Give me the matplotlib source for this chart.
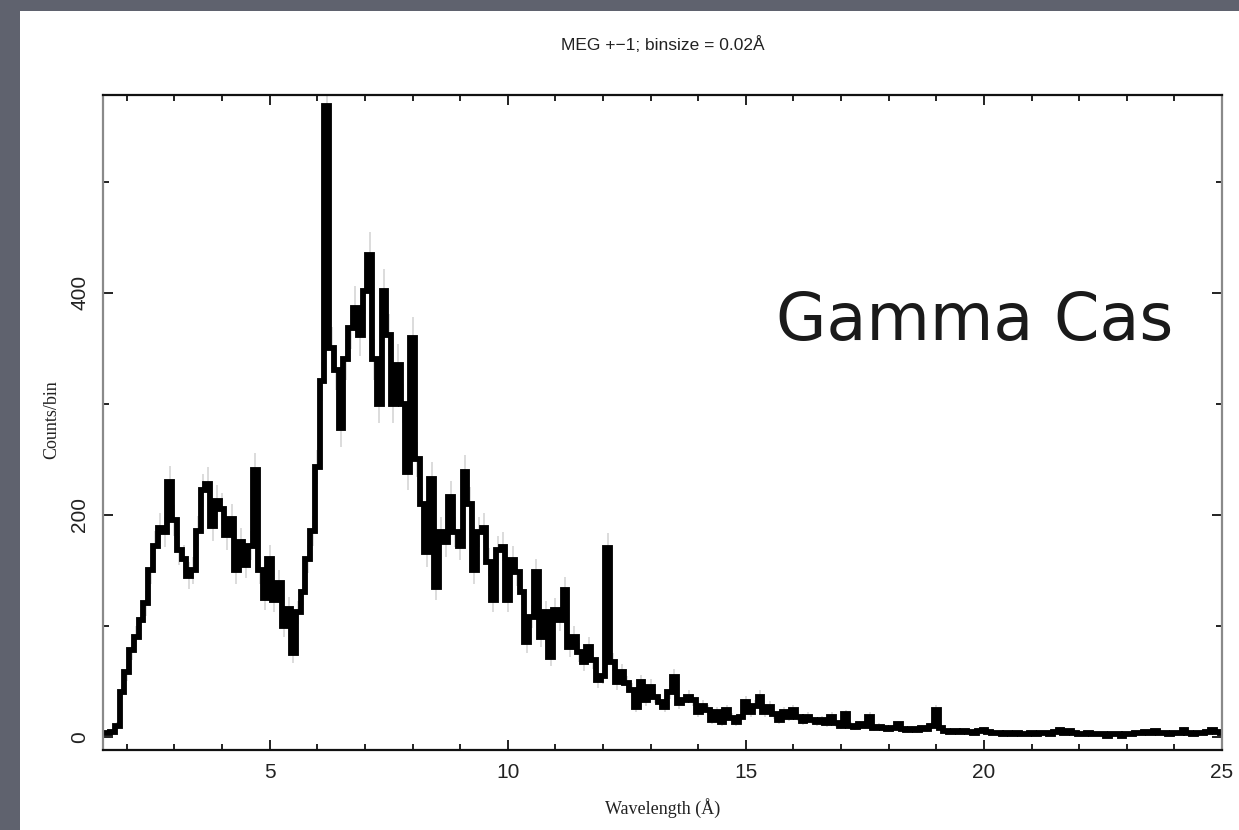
import numpy as np
import matplotlib
matplotlib.use("Agg")
import matplotlib.pyplot as plt
from matplotlib.patches import Rectangle
from matplotlib.ticker import MultipleLocator

# MEG +-1 spectrum of gamma Cas, counts per bin (bin centres in Angstrom)
wavelength = [round(1.5 + 0.1 * i, 1) for i in range(236)]
counts = [
    3, 3, 4, 10, 40, 58, 78, 90, 105, 120,            # 1.5 - 2.4
    150, 172, 188, 184, 229, 195, 168, 160, 145, 150,  # 2.5 - 3.4
    185, 222, 228, 190, 212, 205, 182, 196, 150, 175,  # 3.5 - 4.4
    155, 172, 240, 150, 125, 160, 123, 138, 100, 115,  # 4.5 - 5.4
    75, 112, 130, 160, 185, 243, 320, 568, 350, 330,   # 5.5 - 6.4
    278, 340, 368, 386, 362, 401, 434, 340, 300, 401,  # 6.5 - 7.4
    362, 300, 335, 300, 238, 359, 250, 210, 166, 232,  # 7.5 - 8.4
    135, 184, 175, 216, 184, 172, 238, 210, 150, 184,  # 8.5 - 9.4
    188, 157, 123, 168, 171, 123, 159, 148, 130, 85,   # 9.5 - 10.4
    108, 148, 90, 112, 72, 114, 105, 132, 81, 90,      # 10.5 - 11.4
    76, 67, 81, 69, 51, 55, 170, 67, 49, 58,           # 11.5 - 12.4
    48, 42, 27, 49, 33, 45, 36, 31, 27, 40,            # 12.5 - 13.4
    54, 30, 33, 36, 33, 22, 28, 24, 15, 22,            # 13.5 - 14.4
    13, 24, 17, 13, 18, 31, 22, 28, 36, 22,            # 14.5 - 15.4
    27, 20, 15, 22, 18, 24, 18, 14, 18, 15,            # 15.5 - 16.4
    13, 15, 12, 18, 12, 10, 20, 10, 9, 11,             # 16.5 - 17.4
    10, 18, 8, 9, 8, 7, 8, 11, 7, 6,                   # 17.5 - 18.4
    7, 6, 8, 7, 10, 24, 8, 5, 4, 5,                    # 18.5 - 19.4
    4, 5, 4, 3, 5, 6, 4, 3, 3, 2,                      # 19.5 - 20.4
    3, 2, 3, 2, 2, 3, 2, 3, 3, 2,                      # 20.5 - 21.4
    4, 6, 3, 5, 3, 2, 2, 3, 2, 2,                      # 21.5 - 22.4
    2, 1, 2, 2, 1, 2, 2, 3, 3, 4,                      # 22.5 - 23.4
    3, 5, 3, 3, 2, 3, 3, 6, 3, 2,                      # 23.5 - 24.4
    3, 3, 4, 6, 4, 3,                                  # 24.5 - 25.0
]

x_major = [5, 10, 15, 20, 25]
y_major = [0, 200, 400]

title_text = "MEG +\u22121; binsize = 0.02\u00c5"
xlabel_text = "Wavelength (\u00c5)"
ylabel_text = "Counts/bin"
source_name = "Gamma Cas"

W, H = 1239, 830
fig = plt.figure(figsize=(W / 100, H / 100), dpi=100)
fig.patch.set_facecolor("#5f626e")
fig.patches.append(Rectangle((20 / W, 0), 1 - 20 / W, (H - 11) / H,
                             transform=fig.transFigure, facecolor="white",
                             edgecolor="none", zorder=-5))

ax = fig.add_axes([103 / W, 1 - 750 / H, (1222 - 103) / W, (750 - 95) / H])
ax.set_zorder(2)
ax.set_facecolor("white")

wl = np.array(wavelength)
ct = np.array(counts, dtype=float)
err = np.sqrt(np.maximum(ct, 1.0))
ax.vlines(wl, ct - err, ct + err, color="#d6d6d6", lw=1.2, zorder=1)
ax.step(wl, ct, where="mid", color="black", lw=4.2, zorder=2,
        solid_joinstyle="miter")

ax.set_xlim(1.5, 25.0)
ax.set_ylim(-12, 578)

ax.xaxis.set_major_locator(MultipleLocator(5))
ax.xaxis.set_minor_locator(MultipleLocator(1))
ax.yaxis.set_major_locator(MultipleLocator(200))
ax.yaxis.set_minor_locator(MultipleLocator(100))
ax.set_xticks(x_major)
ax.set_yticks(y_major)

ax.tick_params(which="both", direction="in", top=True, right=True,
               colors="#222222", width=1.4)
ax.tick_params(which="major", length=7)
ax.tick_params(which="minor", length=4)
ax.tick_params(axis="x", which="major", pad=9, labelsize=15, labelcolor="#222222")
ax.tick_params(axis="y", which="major", pad=10, labelsize=15, labelcolor="#222222")
for lab in ax.get_xticklabels() + ax.get_yticklabels():
    lab.set_fontfamily("Liberation Sans")
for lab in ax.get_yticklabels():
    lab.set_rotation(90)
    lab.set_va("center")

for side in ("top", "bottom"):
    ax.spines[side].set_color("#111111")
    ax.spines[side].set_linewidth(1.6)
for side in ("left", "right"):
    ax.spines[side].set_color("#8a8a8a")
    ax.spines[side].set_linewidth(1.6)

fig.text(663 / W, 1 - 45 / H, title_text, ha="center", va="center",
         fontsize=12.5, family="Liberation Sans", color="#222222")
fig.text(663 / W, 1 - 808 / H, xlabel_text, ha="center", va="center",
         fontsize=13, family="Liberation Serif", color="#222222")
fig.text(52 / W, 1 - 420 / H, ylabel_text, ha="center", va="center",
         rotation=90, fontsize=13, family="Liberation Serif", color="#222222")
fig.text(776 / W, 1 - 322 / H, source_name, ha="left", va="center",
         fontsize=47, family="DejaVu Sans", color="#1a1a1a", zorder=5)

fig.savefig("out.png", dpi=100, facecolor=fig.get_facecolor())
